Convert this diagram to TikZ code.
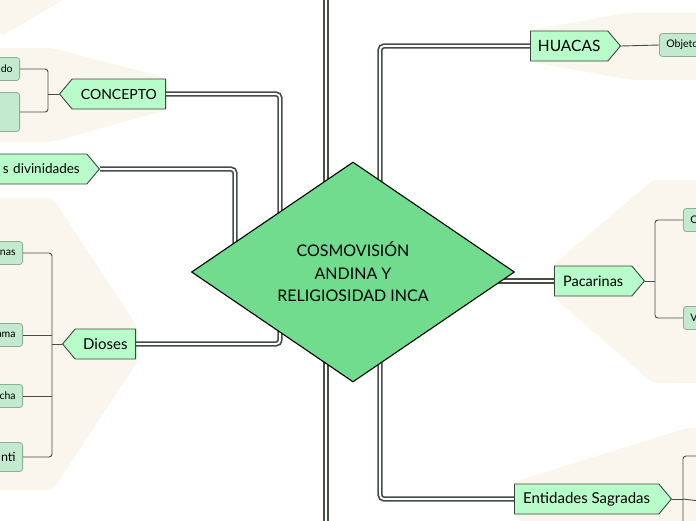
\documentclass[tikz,border=0pt]{standalone}
\usepackage{fontspec}
\setmainfont{Lato}
\usetikzlibrary{shapes.geometric,shapes.symbols,backgrounds}

\definecolor{hubgreen}{HTML}{72DC8E}
\definecolor{topicmint}{HTML}{B8FCCA}
\definecolor{topicedge}{HTML}{3E4640}
\definecolor{leafmint}{HTML}{C3EACE}
\definecolor{leafedge}{HTML}{8DAF95}
\definecolor{wiregray}{HTML}{454D47}
\definecolor{hazecream}{HTML}{FAF6ED}

\tikzset{
  hub/.style={diamond, aspect=1.47, minimum width=323pt, minimum height=220pt, inner sep=0pt,
    draw=black, line width=1.1pt, fill=hubgreen, align=center, font=\fontsize{16}{22.5}\selectfont},
  topic/.style={signal, signal pointer angle=100, draw=topicedge, fill=topicmint, line width=0.9pt,
    minimum height=30pt, inner xsep=6pt, inner ysep=0pt, font=\fontsize{14}{16}\selectfont},
  leaf/.style={rectangle, rounded corners=3pt, draw=leafedge, fill=leafmint, line width=0.8pt,
    minimum height=23pt, inner xsep=7pt, inner ysep=0pt, font=\fontsize{10.5}{12}\selectfont},
  trunk/.style={draw=wiregray, line width=1.7pt, double=white, double distance=1.8pt, rounded corners=4pt},
  twig/.style={draw=wiregray, line width=0.9pt, rounded corners=3pt},
  halo/.style={fill=hazecream, rounded corners=6pt}
}

\begin{document}
\begin{tikzpicture}[x=1pt, y=-1pt]
  \useasboundingbox (0,0) rectangle (696,520);
  \clip (0,0) rectangle (696,520);

  % central idea
  \node[hub] (hub) at (353,272) {COSMOVISIÓN\\ANDINA Y\\RELIGIOSIDAD INCA};

  % left side
  \node[topic, signal to=west, anchor=east, minimum width=106pt] (concepto) at (166,94) {CONCEPTO};
  \node[topic, signal to=east, anchor=east, text width=100pt, align=right, inner xsep=7pt,
        font=\fontsize{13.5}{16}\selectfont] (divin) at (100,169) {s divinidades};
  \node[topic, signal to=west, anchor=east, minimum width=73pt,
        font=\fontsize{15}{16}\selectfont] (dioses) at (136,344) {Dioses};

  \node[leaf, anchor=east, text width=40pt, align=right] (cpt1) at (20,69) {do};
  \node[leaf, anchor=east, text width=40pt, minimum height=39pt] (cpt2) at (20,112) {};

  \node[leaf, anchor=east, text width=40pt, align=right] (god1) at (23,253) {nas};
  \node[leaf, anchor=east, text width=40pt, align=right] (god2) at (23,335) {ama};
  \node[leaf, anchor=east, text width=40pt, align=right] (god3) at (23,396) {cha};
  \node[leaf, anchor=east, text width=40pt, align=right, minimum height=29pt,
        font=\fontsize{12.5}{14}\selectfont] (god4) at (23,457) {nti};

  % right side
  \node[topic, signal to=east, anchor=west, minimum width=90pt,
        font=\fontsize{15.5}{16}\selectfont] (huacas) at (530,46) {HUACAS};
  \node[topic, signal to=east, anchor=west, minimum width=90pt,
        font=\fontsize{14.5}{16}\selectfont] (pac) at (554,281) {Pacarinas};
  \node[topic, signal to=east, anchor=west, minimum width=157pt,
        font=\fontsize{15}{16}\selectfont] (ent) at (514,499) {Entidades Sagradas};

  \node[leaf, anchor=west, text width=40pt, align=left] (obj) at (659,45) {Objeto};
  \node[leaf, anchor=west, text width=40pt, align=left] (pac1) at (683,220) {C};
  \node[leaf, anchor=west, text width=40pt, align=left] (pac2) at (683,318) {V};

  % bends and free ends
  \coordinate (jl) at (280,272);
  \coordinate (jd) at (235,272);
  \coordinate (jr) at (380,272);
  \coordinate (vtop) at (326,-10);
  \coordinate (vbot) at (326,530);
  \coordinate (cb) at (48,94);
  \coordinate (db) at (52,344);
  \coordinate (pb) at (655,281);
  \coordinate (eb) at (683,499);
  \coordinate (e1) at (700,456);
  \coordinate (e2) at (700,501);
  \coordinate (e3) at (683,530);

  \begin{scope}[on background layer]
    % cream halos
    \fill[halo] (0,-10) -- (80,-10) -- (0,37) -- cycle;
    \fill[halo] (-10,48) -- (52,48) -- (167,78) -- (167,110) -- (52,142) -- (-10,142) -- cycle;
    \fill[halo] (-10,198) -- (53,198) -- (138,328) -- (138,361) -- (53,490) -- (-10,490) -- cycle;
    \fill[halo] (530,30) -- (627,13) -- (710,13) -- (710,80) -- (633,80) -- (530,62) -- cycle;
    \fill[halo] (553,265) -- (653,180) -- (710,180) -- (710,383) -- (653,383) -- (553,297) -- cycle;
    \fill[halo] (513,482) -- (687,428) -- (710,428) -- (710,540) -- (540,540) -- (513,514) -- cycle;

    % main connectors
    \draw[trunk] (vtop) -- (vbot);
    \draw[trunk] (concepto.east) -| (jl) -- (hub.center);
    \draw[trunk] (dioses.east) -| (jl);
    \draw[trunk] (divin.east) -| (jd) -- (hub.center);
    \draw[trunk] (huacas.west) -| (jr) -- (hub.center);
    \draw[trunk] (ent.west) -| (jr);
    \draw[trunk] (pac.west) -- (pac.west -| hub.center);
  \end{scope}

  % sub connectors
  \draw[twig] (cpt1.east) -| (cb) |- (cpt2.east);
  \draw[twig] (cb) -- (concepto.west);
  \draw[twig] (god1.east) -| (db) |- (god4.east);
  \draw[twig] (god2.east) -- (god2.east -| db);
  \draw[twig] (god3.east) -- (god3.east -| db);
  \draw[twig] (db) -- (dioses.west);
  \draw[twig] (huacas.east) -- (obj.west);
  \draw[twig] (pac1.west) -| (pb) |- (pac2.west);
  \draw[twig] (pac.east) -- (pb);
  \draw[twig] (ent.east) -- (eb);
  \draw[twig] (e1) -| (e3);
  \draw[twig] (eb) -- (e2);
\end{tikzpicture}
\end{document}
